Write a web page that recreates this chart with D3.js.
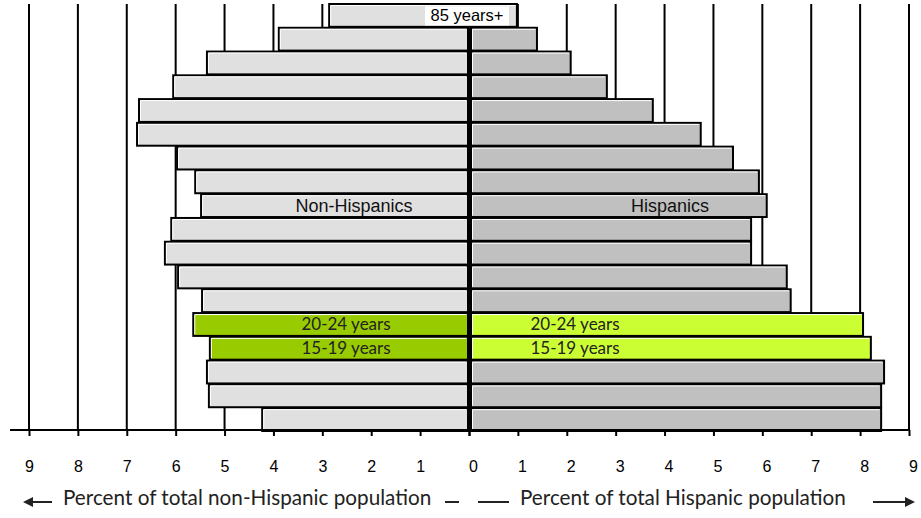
<!DOCTYPE html>
<html>
<head>
<meta charset="utf-8">
<script src="https://cdn.jsdelivr.net/npm/d3@7"></script>
<style>
  body { margin: 0; background: #fff; }
  svg { display: block; }
</style>
</head>
<body>
<svg id="chart" width="921" height="518"></svg>
<script>
// age groups, oldest first (top of pyramid)
var ages = ['85+', '80-84', '75-79', '70-74', '65-69', '60-64', '55-59', '50-54',
            '45-49', '40-44', '35-39', '30-34', '25-29', '20-24', '15-19', '10-14', '5-9', '0-4'];

// percent of total non-Hispanic population
var nonHispanic = [2.86, 3.89, 5.36, 6.05, 6.75, 6.79, 5.97, 5.60,
                   5.48, 6.09, 6.22, 5.95, 5.46, 5.64, 5.30, 5.36, 5.32, 4.23];

// percent of total Hispanic population
var hispanic = [0.98, 1.39, 2.08, 2.82, 3.76, 4.74, 5.40, 5.93,
                6.09, 5.77, 5.77, 6.50, 6.58, 8.06, 8.22, 8.49, 8.43, 8.43];

var ticks = [0, 1, 2, 3, 4, 5, 6, 7, 8, 9];
var highlight = { '20-24': '20-24 years', '15-19': '15-19 years' };

var svg = d3.select('#chart');

var cx = 469,
    plotTop = 4,
    base = 430;

var xL = d3.scaleLinear().domain([0, 9]).range([cx, 29]);
var xR = d3.scaleLinear().domain([0, 9]).range([cx, 909]);
var y = d3.scaleBand().domain(ages).range([plotTop, base + 1]).paddingInner(0.04);

var colors = {
    left: '#e0e0e0', right: '#c0c0c0',
    leftHi: '#99cc00', rightHi: '#ccff33'
};

// vertical grid lines
var grid = svg.append('g').attr('class', 'grid');
grid.selectAll('.gl').data(ticks.slice(1)).enter().append('line')
    .attr('x1', function(d) { return xL(d); }).attr('x2', function(d) { return xL(d); })
    .attr('y1', plotTop).attr('y2', base)
    .attr('stroke', '#000').attr('stroke-width', 2);
grid.selectAll('.gr').data(ticks.slice(1)).enter().append('line')
    .attr('x1', function(d) { return xR(d); }).attr('x2', function(d) { return xR(d); })
    .attr('y1', plotTop).attr('y2', base)
    .attr('stroke', '#000').attr('stroke-width', 2);

var bars = svg.append('g').attr('class', 'bars');
var labels = svg.append('g').attr('class', 'labels');

// bar with the thin white bevel along its top and left edges
function bar(x0, x1, yy, h, fill) {
    bars.append('rect')
        .attr('x', x0).attr('y', yy)
        .attr('width', x1 - x0).attr('height', h)
        .attr('fill', fill).attr('stroke', '#000').attr('stroke-width', 2);
    bars.append('path')
        .attr('d', 'M' + (x0 + 1.5) + ',' + (yy + h - 1.5) + 'V' + (yy + 1.5) + 'H' + (x1 - 1.5))
        .attr('fill', 'none').attr('stroke', '#fff').attr('stroke-width', 1);
}

ages.forEach(function(a, i) {
    var yy = y(a), h = y.bandwidth();
    if (i === 0) {
        // the oldest group is drawn as one bar across the centre
        bar(xL(nonHispanic[i]), xR(hispanic[i]), yy, h, colors.left);
        return;
    }
    var hi = highlight[a];
    bar(xL(nonHispanic[i]), xL(0) - 1, yy, h, hi ? colors.leftHi : colors.left);
    bar(xR(0) + 2, xR(hispanic[i]), yy, h, hi ? colors.rightHi : colors.right);
    if (hi) {
        labels.append('text')
            .attr('x', 346).attr('y', yy + h / 2 + 6)
            .attr('text-anchor', 'middle')
            .attr('font-family', 'Lato, sans-serif').attr('font-size', 17)
            .attr('fill', '#222').text(hi);
        labels.append('text')
            .attr('x', 575).attr('y', yy + h / 2 + 6)
            .attr('text-anchor', 'middle')
            .attr('font-family', 'Lato, sans-serif').attr('font-size', 17)
            .attr('fill', '#222').text(hi);
    }
});

// centre line over the bars below the top group
svg.append('line')
    .attr('x1', cx).attr('x2', cx)
    .attr('y1', y('80-84')).attr('y2', base + 1)
    .attr('stroke', '#000').attr('stroke-width', 3);

// label on the oldest group
var labY = y('85+') + y.bandwidth() / 2;
svg.append('rect')
    .attr('x', 425).attr('y', labY - 9).attr('width', 84).attr('height', 19)
    .attr('fill', '#fff');
svg.append('text')
    .attr('x', 467).attr('y', labY + 6)
    .attr('text-anchor', 'middle')
    .attr('font-family', 'Liberation Sans, Arial, sans-serif').attr('font-size', 16.5)
    .attr('fill', '#000').text('85 years+');

// group names
var gy = y('45-49') + y.bandwidth() / 2 + 6;
svg.append('text').attr('x', 354).attr('y', gy).attr('text-anchor', 'middle')
    .attr('font-family', 'Liberation Sans, Arial, sans-serif').attr('font-size', 18)
    .attr('fill', '#111').text('Non-Hispanics');
svg.append('text').attr('x', 670).attr('y', gy).attr('text-anchor', 'middle')
    .attr('font-family', 'Liberation Sans, Arial, sans-serif').attr('font-size', 18)
    .attr('fill', '#111').text('Hispanics');

// bottom axes
var axL = d3.axisBottom(xL).tickValues(ticks).tickSize(6).tickPadding(25)
    .tickFormat(function(d) { return d === 0 ? '' : d; });
var axR = d3.axisBottom(xR).tickValues(ticks).tickSize(6).tickPadding(25)
    .tickFormat(d3.format('d'));

function styleAxis(g) {
    g.select('.domain').remove();
    g.selectAll('.tick line').attr('stroke', '#000').attr('stroke-width', 2);
    g.selectAll('.tick text')
        .attr('font-family', 'Liberation Sans, Arial, sans-serif')
        .attr('font-size', 16).attr('fill', '#000');
}

svg.append('g').attr('transform', 'translate(0,' + base + ')').call(axL).call(styleAxis);
svg.append('g').attr('transform', 'translate(4,' + base + ')').call(axR).call(styleAxis)
    .selectAll('.tick line').attr('transform', 'translate(-4,0)');

svg.append('line')
    .attr('x1', 10).attr('x2', xR(9) + 1)
    .attr('y1', base).attr('y2', base)
    .attr('stroke', '#000').attr('stroke-width', 2);

// axis titles with arrows
var ty = 505;
svg.append('text').attr('x', 63).attr('y', ty)
    .attr('font-family', 'Lato, sans-serif').attr('font-size', 20.7)
    .attr('fill', '#222').text('Percent of total non-Hispanic population');
svg.append('text').attr('x', 520).attr('y', ty)
    .attr('font-family', 'Lato, sans-serif').attr('font-size', 20.7)
    .attr('fill', '#222').text('Percent of total Hispanic population');

var deco = svg.append('g').attr('stroke', '#222').attr('stroke-width', 2);
deco.append('line').attr('x1', 30).attr('x2', 52).attr('y1', ty - 3).attr('y2', ty - 3);
deco.append('line').attr('x1', 445).attr('x2', 459).attr('y1', ty - 3).attr('y2', ty - 3);
deco.append('line').attr('x1', 478).attr('x2', 509).attr('y1', ty - 3).attr('y2', ty - 3);
deco.append('line').attr('x1', 873).attr('x2', 908).attr('y1', ty - 3).attr('y2', ty - 3);
svg.append('path').attr('d', 'M23,' + (ty - 3) + 'l10,-5l0,10z').attr('fill', '#222');
svg.append('path').attr('d', 'M915,' + (ty - 3) + 'l-10,-5l0,10z').attr('fill', '#222');
</script>
</body>
</html>
